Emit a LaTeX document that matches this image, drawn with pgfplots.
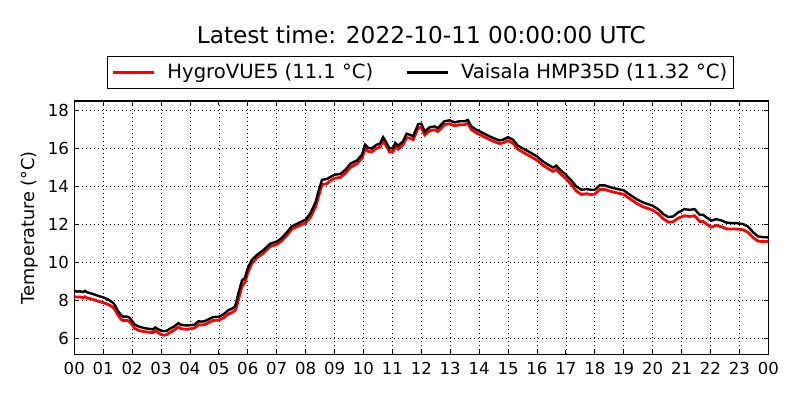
\documentclass[border=0pt]{standalone}
\usepackage{fontspec}
\setmainfont{DejaVu Sans}
\usepackage{pgfplots}
\pgfplotsset{compat=1.18}
\begin{document}
\begin{tikzpicture}
\useasboundingbox (0pt,0pt) rectangle (600pt,300pt);
\begin{axis}[
  at={(55.7pt,34.3pt)}, anchor=south west,
  scale only axis, width=520.5pt, height=190pt,
  xmin=0, xmax=24, ymin=5.16, ymax=18.51,
  xtick={0,1,...,24},
  xticklabels={00,01,02,03,04,05,06,07,08,09,10,11,12,13,14,15,16,17,18,19,20,21,22,23,00},
  ytick={6,8,10,12,14,16,18},
  tick align=inside,
  major tick length=3pt,
  every tick/.style={black, line width=0.6pt},
  axis line style={black, line width=0.9pt},
  grid=major,
  major grid style={black, line width=0.5pt, dash pattern=on 0.8pt off 2.2pt},
  /pgf/number format/assume math mode=true,
  ticklabel style={font=\fontsize{12.4}{14}\selectfont},
  xticklabel style={yshift=-2.5pt},
  yticklabel style={xshift=-0.5pt},
  ylabel={Temperature (°C)},
  every axis y label/.style={at={(axis description cs:-0.0645,0.5)}, rotate=90, anchor=center, font=\fontsize{13.3}{15}\selectfont},
  legend columns=2,
  legend image code/.code={\draw[#1] (0pt,0pt) -- (31pt,0pt);},
  legend style={at={(0.499,1.1125)}, anchor=center, draw=black, line width=0.8pt,
    font=\fontsize{14.7}{17}\selectfont, inner xsep=3pt, inner ysep=3.5pt,
    /tikz/every odd column/.append style={column sep=7pt},
    /tikz/every even column/.append style={column sep=22pt},
    cells={anchor=west}},
]
\addplot[red, line width=2.1pt] coordinates {
(0.00,8.20) (0.10,8.17) (0.20,8.18) (0.30,8.14) (0.37,8.19) (0.45,8.12) (0.55,8.09) (0.66,8.04) (0.80,7.97) (1.00,7.88)
(1.12,7.82) (1.23,7.74) (1.35,7.62) (1.44,7.42) (1.52,7.20) (1.62,7.00) (1.69,6.93) (1.80,6.95) (1.90,6.90) (2.00,6.72)
(2.09,6.52) (2.26,6.40) (2.40,6.36) (2.49,6.34) (2.60,6.32) (2.72,6.30) (2.80,6.40) (2.88,6.32) (3.00,6.20) (3.10,6.16)
(3.20,6.20) (3.30,6.30) (3.45,6.43) (3.60,6.60) (3.68,6.52) (3.77,6.49) (3.90,6.48) (4.00,6.50) (4.15,6.54) (4.30,6.72)
(4.40,6.70) (4.50,6.72) (4.64,6.82) (4.80,6.94) (5.00,6.96) (5.16,7.08) (5.33,7.28) (5.45,7.36) (5.56,7.46) (5.62,7.70)
(5.68,8.05) (5.80,8.75) (5.90,8.95) (6.00,9.45) (6.14,9.95) (6.32,10.25) (6.55,10.50) (6.77,10.83) (7.00,10.95) (7.17,11.13)
(7.35,11.42) (7.52,11.75) (7.69,11.88) (8.00,12.08) (8.17,12.40) (8.35,12.95) (8.46,13.55) (8.57,14.10) (8.74,14.15) (8.85,14.30)
(9.00,14.43) (9.20,14.48) (9.38,14.70) (9.55,15.02) (9.78,15.20) (9.95,15.50) (10.06,15.98) (10.17,15.85) (10.28,15.82) (10.45,16.02)
(10.57,16.07) (10.68,16.40) (10.80,16.12) (10.90,15.82) (11.03,15.85) (11.10,16.10) (11.20,15.97) (11.37,16.20) (11.49,16.58) (11.60,16.55)
(11.72,16.47) (11.89,17.08) (12.00,17.12) (12.12,16.72) (12.29,16.94) (12.46,16.99) (12.57,16.90) (12.69,17.08) (12.80,17.26) (12.98,17.31)
(13.15,17.20) (13.33,17.26) (13.50,17.26) (13.61,17.33) (13.73,17.00) (13.90,16.83) (14.08,16.69) (14.25,16.56) (14.48,16.39) (14.71,16.26)
(14.83,16.30) (15.00,16.42) (15.17,16.29) (15.34,15.96) (15.52,15.81) (15.69,15.66) (15.86,15.51) (16.00,15.39) (16.20,15.13) (16.38,14.95)
(16.56,14.80) (16.67,14.90) (16.79,14.70) (17.00,14.42) (17.19,14.10) (17.36,13.76) (17.54,13.58) (17.71,13.62) (17.88,13.58) (18.00,13.60)
(18.17,13.84) (18.34,13.85) (18.52,13.76) (18.75,13.67) (19.00,13.59) (19.21,13.36) (19.44,13.12) (19.67,12.93) (20.00,12.76) (20.19,12.57)
(20.36,12.31) (20.54,12.12) (20.71,12.14) (20.88,12.33) (21.00,12.40) (21.10,12.46) (21.28,12.42) (21.45,12.46) (21.63,12.16) (21.75,12.16)
(21.86,12.02) (22.03,11.86) (22.20,11.95) (22.38,11.88) (22.55,11.77) (22.73,11.76) (22.90,11.76) (23.13,11.72) (23.30,11.58) (23.48,11.30)
(23.65,11.12) (23.83,11.10) (24.00,11.10)
};
\addlegendentry{HygroVUE5 (11.1 °C)}
\addplot[black, line width=1.8pt] coordinates {
(0.00,8.50) (0.10,8.46) (0.20,8.48) (0.30,8.44) (0.37,8.50) (0.45,8.42) (0.55,8.38) (0.66,8.33) (0.80,8.25) (1.00,8.16)
(1.12,8.08) (1.23,7.99) (1.35,7.86) (1.44,7.65) (1.52,7.42) (1.62,7.22) (1.69,7.14) (1.80,7.15) (1.90,7.10) (2.00,6.92)
(2.09,6.72) (2.26,6.60) (2.40,6.55) (2.49,6.52) (2.60,6.50) (2.72,6.47) (2.80,6.58) (2.88,6.50) (3.00,6.40) (3.10,6.38)
(3.20,6.40) (3.30,6.50) (3.45,6.62) (3.60,6.80) (3.68,6.72) (3.77,6.69) (3.90,6.68) (4.00,6.69) (4.15,6.72) (4.30,6.90)
(4.40,6.88) (4.50,6.90) (4.64,7.00) (4.80,7.12) (5.00,7.14) (5.16,7.27) (5.33,7.48) (5.45,7.56) (5.56,7.68) (5.62,8.00)
(5.68,8.40) (5.80,9.05) (5.90,9.18) (6.00,9.70) (6.14,10.13) (6.32,10.40) (6.55,10.66) (6.77,10.98) (7.00,11.10) (7.17,11.28)
(7.35,11.58) (7.52,11.90) (7.69,12.03) (8.00,12.25) (8.17,12.60) (8.35,13.20) (8.46,13.83) (8.57,14.36) (8.74,14.39) (8.85,14.50)
(9.00,14.62) (9.20,14.66) (9.38,14.89) (9.55,15.20) (9.78,15.38) (9.95,15.68) (10.06,16.20) (10.17,16.03) (10.28,16.00) (10.45,16.20)
(10.57,16.25) (10.68,16.60) (10.80,16.30) (10.90,16.00) (11.03,16.03) (11.10,16.30) (11.20,16.15) (11.37,16.38) (11.49,16.78) (11.60,16.73)
(11.72,16.65) (11.89,17.28) (12.00,17.31) (12.12,16.90) (12.29,17.12) (12.46,17.17) (12.57,17.08) (12.69,17.26) (12.80,17.44) (12.98,17.49)
(13.15,17.38) (13.33,17.44) (13.50,17.44) (13.61,17.51) (13.73,17.17) (13.90,17.00) (14.08,16.86) (14.25,16.73) (14.48,16.56) (14.71,16.43)
(14.83,16.47) (15.00,16.60) (15.17,16.47) (15.34,16.15) (15.52,16.00) (15.69,15.86) (15.86,15.71) (16.00,15.59) (16.20,15.33) (16.38,15.15)
(16.56,15.00) (16.67,15.10) (16.79,14.90) (17.00,14.62) (17.19,14.32) (17.36,14.00) (17.54,13.83) (17.71,13.86) (17.88,13.83) (18.00,13.83)
(18.17,14.06) (18.34,14.06) (18.52,13.97) (18.75,13.88) (19.00,13.80) (19.21,13.57) (19.44,13.34) (19.67,13.16) (20.00,12.99) (20.19,12.81)
(20.36,12.56) (20.54,12.39) (20.71,12.42) (20.88,12.63) (21.00,12.72) (21.10,12.81) (21.28,12.77) (21.45,12.81) (21.63,12.51) (21.75,12.51)
(21.86,12.37) (22.03,12.20) (22.20,12.28) (22.38,12.21) (22.55,12.10) (22.73,12.07) (22.90,12.07) (23.13,12.02) (23.30,11.89) (23.48,11.58)
(23.65,11.37) (23.83,11.33) (24.00,11.32)
};
\addlegendentry{Vaisala HMP35D (11.32 °C)}
\end{axis}
\node[font=\fontsize{17.4}{20}\selectfont, anchor=center] at (316pt,273.75pt) {Latest time: 2022-10-11 00:00:00 UTC};
\end{tikzpicture}
\end{document}
